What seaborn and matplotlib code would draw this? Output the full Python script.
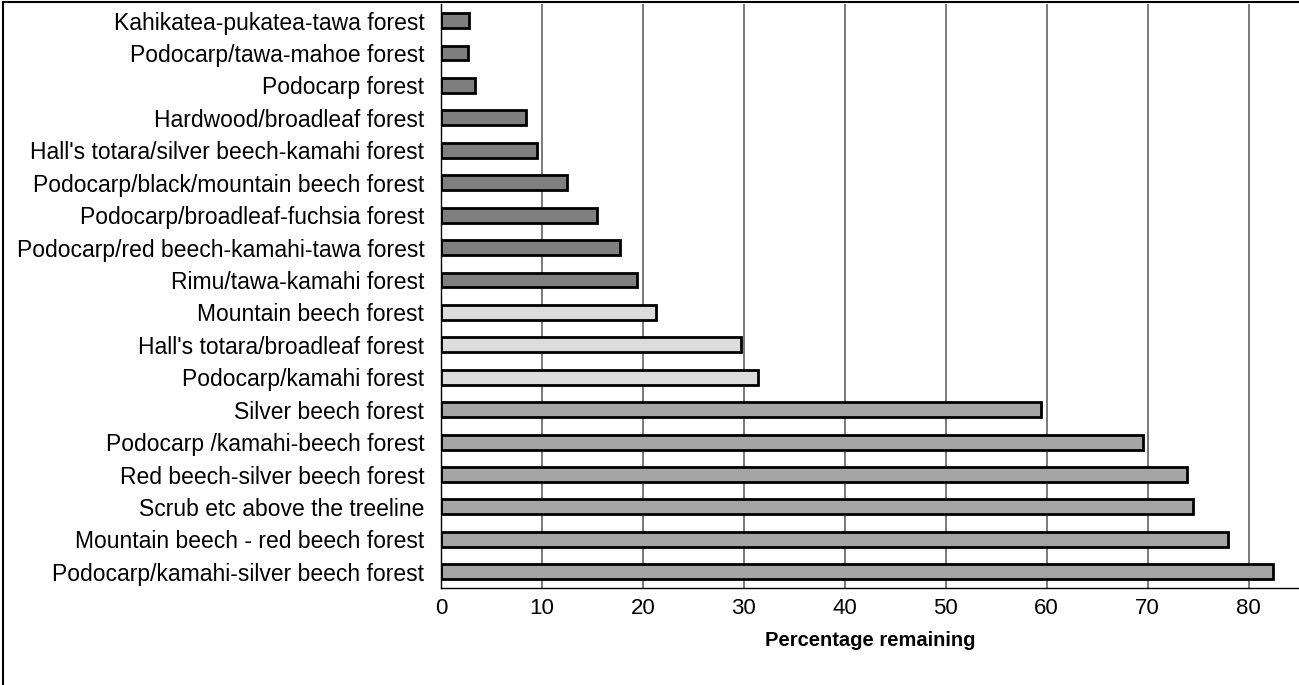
import numpy as np
import pandas as pd
import seaborn as sns
import matplotlib.pyplot as plt
from matplotlib.lines import Line2D

# forest types, top to bottom as in the chart
forest_types = [
    "Kahikatea-pukatea-tawa forest",
    "Podocarp/tawa-mahoe forest",
    "Podocarp forest",
    "Hardwood/broadleaf forest",
    "Hall's totara/silver beech-kamahi forest",
    "Podocarp/black/mountain beech forest",
    "Podocarp/broadleaf-fuchsia forest",
    "Podocarp/red beech-kamahi-tawa forest",
    "Rimu/tawa-kamahi forest",
    "Mountain beech forest",
    "Hall's totara/broadleaf forest",
    "Podocarp/kamahi forest",
    "Silver beech forest",
    "Podocarp /kamahi-beech forest",
    "Red beech-silver beech forest",
    "Scrub etc above the treeline",
    "Mountain beech - red beech forest",
    "Podocarp/kamahi-silver beech forest",
]
pct_remaining = [2.8, 2.7, 3.4, 8.4, 9.5, 12.5, 15.5, 17.7, 19.4,
                 21.3, 29.7, 31.4,
                 59.4, 69.5, 73.9, 74.5, 78.0, 82.4]
group = ["low"] * 9 + ["mid"] * 3 + ["high"] * 6
group_colours = {"low": "#7f7f7f", "mid": "#dcdcdc", "high": "#a5a5a5"}
x_ticks = [0, 10, 20, 30, 40, 50, 60, 70, 80]

df = pd.DataFrame({"forest": forest_types, "pct": pct_remaining, "group": group})

sns.set_style("white")
plt.rcParams['font.family'] = ['Liberation Sans', 'DejaVu Sans']
plt.rcParams['text.color'] = 'black'
plt.rcParams['xtick.color'] = 'black'
plt.rcParams['ytick.color'] = 'black'
plt.rcParams['axes.labelcolor'] = 'black'

fig = plt.figure(figsize=(12.99, 6.85), dpi=100)
ax = fig.add_axes([0.3395, 0.1416, 0.6605, 0.852])

ax.set_axisbelow(True)
for t in x_ticks[1:]:
    ax.axvline(t, color="#6e6e6e", lw=1.3, zorder=0)

sns.barplot(data=df, x="pct", y="forest", hue="group", palette=group_colours,
            dodge=False, width=0.46, edgecolor="black", linewidth=2,
            legend=False, ax=ax, zorder=2)

ax.set_xlim(0, 85)
ax.set_ylim(len(forest_types) - 0.5, -0.5)
ax.set_xticks(x_ticks)
ax.tick_params(axis="x", direction="inout", length=10, width=1, labelsize=16, pad=2)
ax.tick_params(axis="y", which="major", length=0, labelsize=16.5, pad=12)
ax.set_yticks(np.arange(-0.5, len(forest_types), 1), minor=True)
ax.tick_params(axis="y", which="minor", direction="out", length=5, width=1)
ax.set_ylabel("")
ax.set_xlabel("Percentage remaining", fontsize=14.5, fontweight="bold", labelpad=9)

for side in ["top", "right"]:
    ax.spines[side].set_visible(False)
for side in ["left", "bottom"]:
    ax.spines[side].set_color("black")
    ax.spines[side].set_linewidth(1)

# frame lines of the original figure
fig.add_artist(Line2D([0.002, 0.002], [0, 0.997], transform=fig.transFigure, color="black", lw=1.5))
fig.add_artist(Line2D([0.002, 1], [0.997, 0.997], transform=fig.transFigure, color="black", lw=1.5))

fig.savefig("out.png", dpi=100)
